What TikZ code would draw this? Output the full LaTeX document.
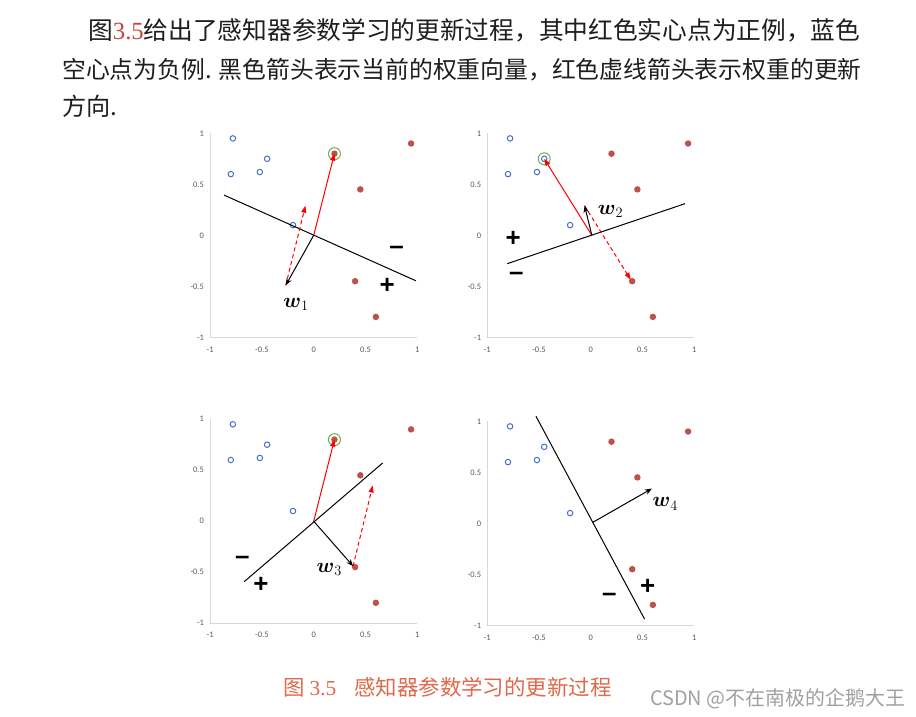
\documentclass[tikz,border=0pt]{standalone}
\usepackage{amsmath,amssymb}
\usepackage{fontspec}
\setmainfont{Liberation Serif}
\newfontfamily\cjk{Noto Sans CJK SC}
\newfontfamily\tickfont{Carlito}
\newfontfamily\signfont{Liberation Sans}
\usetikzlibrary{arrows.meta}
\definecolor{ink}{RGB}{30,30,30}
\definecolor{refred}{RGB}{200,70,55}
\definecolor{capred}{RGB}{222,105,75}
\definecolor{negblue}{RGB}{68,114,196}
\definecolor{posred}{RGB}{192,80,77}
\definecolor{hitgreen}{RGB}{112,173,71}
\definecolor{axisgray}{RGB}{217,217,217}
\definecolor{tickgray}{RGB}{90,90,90}
\definecolor{markgray}{RGB}{160,160,160}

\tikzset{
  axisline/.style={draw=axisgray,line width=1bp},
  ticklbl/.style={font=\tickfont\fontsize{8.5}{9}\selectfont,text=tickgray,inner sep=0pt},
  negpt/.style={circle,draw=negblue,line width=1bp,minimum size=5.5bp,inner sep=0pt},
  pospt/.style={circle,fill=posred,minimum size=6.5bp,inner sep=0pt},
  hitring/.style={circle,draw=hitgreen,line width=1bp,minimum size=12bp,inner sep=0pt},
  bound/.style={black,line width=1bp},
  warrow/.style={black,line width=1bp,-{Stealth[length=7bp,width=5.5bp]}},
  updarrow/.style={red,line width=1bp,-{Triangle[length=7bp,width=5bp]}},
  nextarrow/.style={red,line width=1bp,dash pattern=on 4bp off 3bp,
    -{Triangle[length=7bp,width=5bp]}},
  wlbl/.style={font=\fontsize{21}{21}\selectfont,inner sep=0pt},
  signlbl/.style={font=\signfont\bfseries\fontsize{26}{26}\selectfont,inner sep=0pt},
  bodytxt/.style={anchor=base west,inner sep=0pt,text=ink},
}

% axes, ticks and the ten samples of one panel
\newcommand{\percpanel}[1]{%
  \draw[axisline] (-1,1) -- (-1,-1) -- (1,-1);
  \foreach \v [count=\i] in {1,0.5,0,-0.5,-1}
    \node[ticklbl,anchor=east] (#1yt\i) at ([xshift=-6bp]-1,\v) {\v};
  \foreach \v [count=\i] in {-1,-0.5,0,0.5,1}
    \node[ticklbl] (#1xt\i) at ([yshift=-12bp]\v,-1) {\v};
  \foreach \px/\py [count=\i] in {-0.78/0.95,-0.8/0.6,-0.52/0.62,-0.45/0.75,-0.2/0.1}
    \node[negpt] (#1n\i) at (\px,\py) {};
  \foreach \px/\py [count=\i] in {0.2/0.8,0.94/0.9,0.45/0.45,0.4/-0.45,0.6/-0.8}
    \node[pospt] (#1p\i) at (\px,\py) {};
}

\begin{document}
\begin{tikzpicture}[x=1bp,y=-1bp]
  \fill[white] (0,0) rectangle (916,717);
  \useasboundingbox (0,0) rectangle (916,717);

  % text above
  \node[bodytxt,font=\fontsize{24.8}{30}\selectfont] (line1) at (88,39.5)
    {{\cjk 图}{\color{refred}3.5}{\cjk 给出了感知器参数学习的更新过程，其中红色实心点为正例，蓝色}};
  \node[bodytxt,font=\fontsize{23.9}{30}\selectfont] (line2) at (62,78.5)
    {\cjk 空心点为负例. 黑色箭头表示当前的权重向量，红色虚线箭头表示权重的更新};
  \node[bodytxt,font=\fontsize{24.3}{30}\selectfont] (line3) at (62,116) {\cjk 方向.};

  % panel 1
  \begin{scope}[shift={(313.7,235.3)},x=103.6bp,y=102bp]
    \percpanel{a}
    \coordinate (ao) at (0,0);
    \coordinate (al1) at (-0.865,0.394);
    \coordinate (al2) at (0.987,-0.446);
    \coordinate (aw) at (-0.27,-0.49);
    \coordinate (anext) at (-0.08,0.29);
    \node[hitring] (ahit) at (ap1) {};
    \draw[bound] (al1) -- (al2);
    \draw[updarrow] (ao) -- (ap1.center);
    \draw[nextarrow] (aw) -- (anext);
    \draw[warrow] (ao) -- (aw);
    \node[wlbl] (awlbl) at (-0.17,-0.68) {$\boldsymbol{w}_1$};
    \node[signlbl] (aminus) at (0.80,-0.15) {–};
    \node[signlbl] (aplus) at (0.71,-0.50) {+};
  \end{scope}

  % panel 2
  \begin{scope}[shift={(590.8,235.3)},x=103.5bp,y=102bp]
    \percpanel{b}
    \coordinate (bo) at (0.01,0);
    \coordinate (bl1) at (-0.807,-0.278);
    \coordinate (bl2) at (0.91,0.31);
    \coordinate (bw) at (-0.06,0.29);
    \coordinate (bnext) at (0.385,-0.435);
    \node[hitring] (bhit) at (bn4) {};
    \draw[bound] (bl1) -- (bl2);
    \draw[updarrow] (bo) -- (bn4.center);
    \draw[nextarrow] (bw) -- (bnext);
    \draw[warrow] (bo) -- (bw);
    \node[wlbl] (bwlbl) at (0.19,0.23) {$\boldsymbol{w}_2$};
    \node[signlbl] (bplus) at (-0.75,-0.04) {+};
    \node[signlbl] (bminus) at (-0.72,-0.40) {–};
  \end{scope}

  % panel 3
  \begin{scope}[shift={(313.7,521.2)},x=103.6bp,y=102bp]
    \percpanel{c}
    \coordinate (co) at (0,0);
    \coordinate (cl1) at (-0.672,-0.594);
    \coordinate (cl2) at (0.666,0.571);
    \coordinate (cw) at (0.38,-0.44);
    \coordinate (cnext) at (0.57,0.35);
    \node[hitring] (chit) at (cp1) {};
    \draw[bound] (cl1) -- (cl2);
    \draw[updarrow] (co) -- (cp1.center);
    \draw[nextarrow] (cw) -- (cnext);
    \draw[warrow] (co) -- (cw);
    \node[wlbl] (cwlbl) at (0.15,-0.47) {$\boldsymbol{w}_3$};
    \node[signlbl] (cminus) at (-0.69,-0.385) {–};
    \node[signlbl] (cplus) at (-0.51,-0.62) {+};
  \end{scope}

  % panel 4
  \begin{scope}[shift={(590.8,523.3)},x=103.5bp,y=102bp]
    \percpanel{d}
    \coordinate (do) at (0.02,0.01);
    \coordinate (dl1) at (-0.53,1.05);
    \coordinate (dl2) at (0.52,-0.94);
    \coordinate (dw) at (0.59,0.34);
    \draw[bound] (dl1) -- (dl2);
    \draw[warrow] (do) -- (dw);
    \node[wlbl] (dwlbl) at (0.72,0.19) {$\boldsymbol{w}_4$};
    \node[signlbl] (dminus) at (0.18,-0.73) {–};
    \node[signlbl] (dplus) at (0.55,-0.62) {+};
  \end{scope}

  % caption and mark
  \node[anchor=base west,inner sep=0pt,text=capred,font=\fontsize{21.5}{23}\selectfont]
    (cap) at (283,695) {{\cjk 图}\hspace{5bp}3.5\hspace{18bp}{\cjk 感知器参数学习的更新过程}};
  \node[anchor=base west,inner sep=0pt,text=markgray,font=\cjk\fontsize{20}{20}\selectfont]
    (mark) at (650,705) {CSDN @不在南极的企鹅大王};
\end{tikzpicture}
\end{document}
